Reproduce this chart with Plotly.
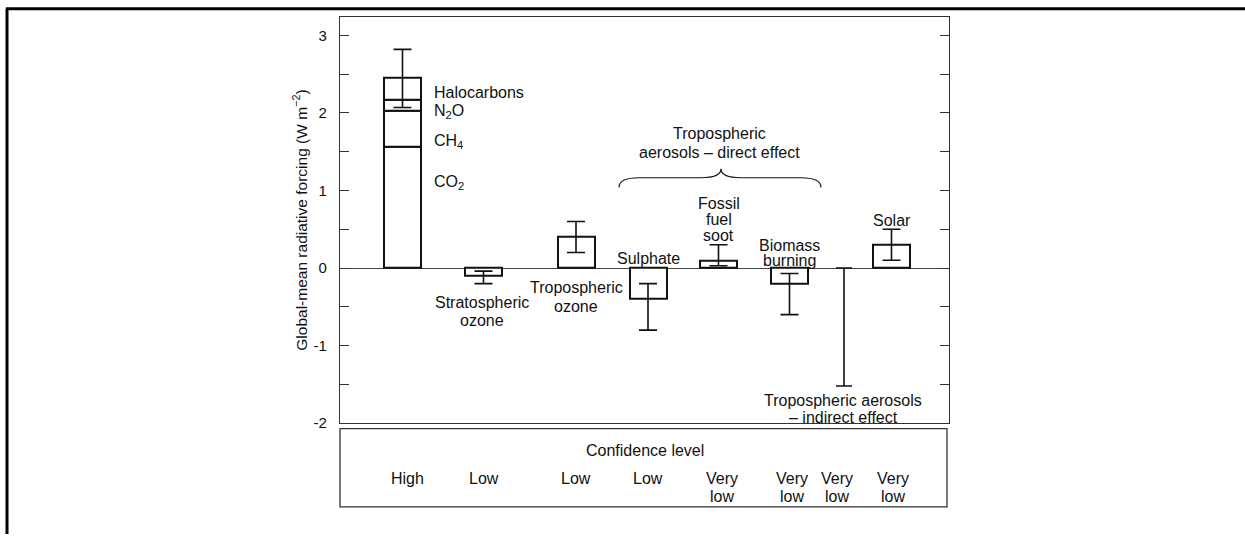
import plotly.graph_objects as go

# Radiative forcing components (W m-2)
ghg_parts = ["CO<sub>2</sub>", "CH<sub>4</sub>", "N<sub>2</sub>O", "Halocarbons"]
ghg_values = [1.56, 0.47, 0.14, 0.28]
ghg_err_high = 2.82
ghg_err_low = 2.07

other_names = ["Stratospheric ozone", "Tropospheric ozone", "Sulphate",
               "Fossil fuel soot", "Biomass burning", "Solar"]
other_values = [-0.10, 0.40, -0.40, 0.10, -0.20, 0.30]
other_err_high = [-0.04, 0.60, -0.20, 0.30, -0.07, 0.50]
other_err_low = [-0.20, 0.20, -0.80, 0.03, -0.60, 0.10]

indirect_value = 0.0
indirect_low = -1.52

confidence = [["High"], ["Low"], ["Low"], ["Low"], ["Very", "low"], ["Very", "low"],
              ["Very", "low"], ["Very", "low"]]

y_ticks = [-2, -1.5, -1, -0.5, 0, 0.5, 1, 1.5, 2, 2.5, 3]
y_tick_text = ["-2", "", "-1", "", "0", "", "1", "", "2", "", "3"]

# horizontal layout of the columns (axis units)
col_x = [62.5, 143.5, 236, 308, 378.5, 449.5, 504, 551.5]
bar_w = 37

W, H = 1245, 542
FONT = "Liberation Sans, Arial, sans-serif"
INK = "#111111"
FS = 16
DROP = -4  # nudges text boxes so the glyphs sit on their centre line

def px_x(p):
    return p / W

def px_y(p):
    return 1 - p / H

fig = go.Figure()

# stacked greenhouse-gas column
base = 0.0
for name, v in zip(ghg_parts, ghg_values):
    fig.add_trace(go.Bar(x=[col_x[0]], y=[v], base=[base], width=bar_w,
                         marker=dict(color="white", line=dict(color=INK, width=2)),
                         name=name, showlegend=False))
    base += v
ghg_total = base
fig.add_trace(go.Scatter(
    x=[col_x[0]], y=[ghg_total], mode="markers", marker=dict(size=1, color="rgba(0,0,0,0)"),
    error_y=dict(type="data", symmetric=False, array=[ghg_err_high - ghg_total],
                 arrayminus=[ghg_total - ghg_err_low], color=INK, thickness=1.6, width=9),
    showlegend=False))

# the other single columns
other_x = [col_x[1], col_x[2], col_x[3], col_x[4], col_x[5], col_x[7]]
fig.add_trace(go.Bar(x=other_x, y=other_values, width=bar_w,
                     marker=dict(color="white", line=dict(color=INK, width=2)),
                     showlegend=False))
fig.add_trace(go.Scatter(
    x=other_x, y=other_values, mode="markers", marker=dict(size=1, color="rgba(0,0,0,0)"),
    error_y=dict(type="data", symmetric=False,
                 array=[h - v for h, v in zip(other_err_high, other_values)],
                 arrayminus=[v - l for l, v in zip(other_err_low, other_values)],
                 color=INK, thickness=1.6, width=9),
    showlegend=False))

# indirect aerosol effect: range only
fig.add_trace(go.Scatter(
    x=[col_x[6]], y=[indirect_value], mode="markers", marker=dict(size=1, color="rgba(0,0,0,0)"),
    error_y=dict(type="data", symmetric=False, array=[0],
                 arrayminus=[indirect_value - indirect_low], color=INK, thickness=1.6, width=8),
    showlegend=False))

ann = []
def label(x, ys, lines, xanchor="center", size=FS):
    """One annotation per text line so the line spacing stays tight."""
    for y, text in zip(ys, lines):
        ann.append(dict(x=x, y=y, xref="x", yref="y", text=text, showarrow=False,
                        xanchor=xanchor, yanchor="middle", yshift=DROP,
                        font=dict(size=size, family=FONT, color=INK)))

# greenhouse gas component labels
gx = col_x[0] + bar_w / 2 + 11
label(gx, [2.314], ["Halocarbons"], xanchor="left")
label(gx, [2.076], ["N<sub>2</sub>O"], xanchor="left")
label(gx, [1.678], ["CH<sub>4</sub>"], xanchor="left")
label(gx, [1.161], ["CO<sub>2</sub>"], xanchor="left")

label(col_x[1] - 2, [-0.39, -0.63], ["Stratospheric", "ozone"])
label(col_x[2], [-0.20, -0.45], ["Tropospheric", "ozone"])
label(col_x[3], [0.17], ["Sulphate"])
label(col_x[4], [0.88, 0.675, 0.47], ["Fossil", "fuel", "soot"])
label(col_x[5], [0.345, 0.155], ["Biomass", "burning"])
label(col_x[7], [0.665], ["Solar"])
label(col_x[6] - 1, [-1.655, -1.88], ["Tropospheric aerosols", "– indirect effect"])
label(379, [1.785, 1.545], ["Tropospheric", "aerosols – direct effect"])

# y-axis title
ann.append(dict(x=px_x(300), y=px_y(224), xref="paper", yref="paper",
                xanchor="center", yanchor="middle",
                text="Global-mean radiative forcing (W m<sup>−2</sup>)", textangle=-90,
                showarrow=False, font=dict(size=15.5, family=FONT, color=INK)))

# confidence panel
ann.append(dict(x=px_x(645), y=px_y(453), xref="paper", yref="paper", text="Confidence level",
                xanchor="center", yanchor="middle", yshift=DROP,
                showarrow=False, font=dict(size=FS, family=FONT, color=INK)))
conf_shift = [5, 0, 0, 0, 3, 2, -7, 1]
conf_rows = [482, 500]
for cx, lines, sh in zip(col_x, confidence, conf_shift):
    for row, txt in zip(conf_rows, lines):
        ann.append(dict(x=cx, y=px_y(row), xref="x", yref="paper", text=txt, xshift=sh,
                        yshift=DROP, showarrow=False, xanchor="center", yanchor="middle",
                        font=dict(size=FS, family=FONT, color=INK)))

shapes = [
    # brace over the direct aerosol columns
    dict(type="path", xref="x", yref="y",
         path="M 279,1.04 Q 279,1.165 299,1.165 L 361,1.165 Q 381,1.165 381,1.28 "
              "Q 381,1.165 401,1.165 L 461,1.165 Q 481,1.165 481,1.04",
         line=dict(color=INK, width=1.2)),
    # confidence panel frame
    dict(type="rect", xref="paper", yref="paper", x0=px_x(340), x1=px_x(947),
         y0=px_y(514.5), y1=px_y(435), line=dict(color="#333333", width=1.3)),
    # outer frame (top and left rule)
    dict(type="line", xref="paper", yref="paper", x0=px_x(6), x1=1, y0=px_y(9), y1=px_y(9),
         line=dict(color="black", width=3)),
    dict(type="line", xref="paper", yref="paper", x0=px_x(7), x1=px_x(7), y0=0, y1=px_y(9),
         line=dict(color="black", width=3)),
]

fig.update_layout(
    width=W, height=H, margin=dict(l=0, r=0, t=0, b=0),
    paper_bgcolor="white", plot_bgcolor="white",
    barmode="overlay", bargap=0, showlegend=False,
    font=dict(family=FONT, size=FS, color=INK),
    annotations=ann, shapes=shapes,
    xaxis=dict(domain=[px_x(340), px_x(949)], range=[0, 609], showgrid=False,
               showticklabels=False, ticks="", zeroline=False,
               showline=True, mirror=True, linecolor="#333333", linewidth=1.3),
    yaxis=dict(domain=[px_y(429.5), px_y(17)], range=[-2, 3.241], showgrid=False,
               tickvals=y_ticks, ticktext=y_tick_text, ticks="inside", ticklen=9,
               tickwidth=1.2, tickcolor="#333333", mirror="ticks",
               showline=True, linecolor="#333333", linewidth=1.3,
               zeroline=True, zerolinecolor="#444444", zerolinewidth=1.2,
               ticklabelstandoff=9, tickfont=dict(size=15, family=FONT, color=INK)),
)

fig.write_html("out.html")
